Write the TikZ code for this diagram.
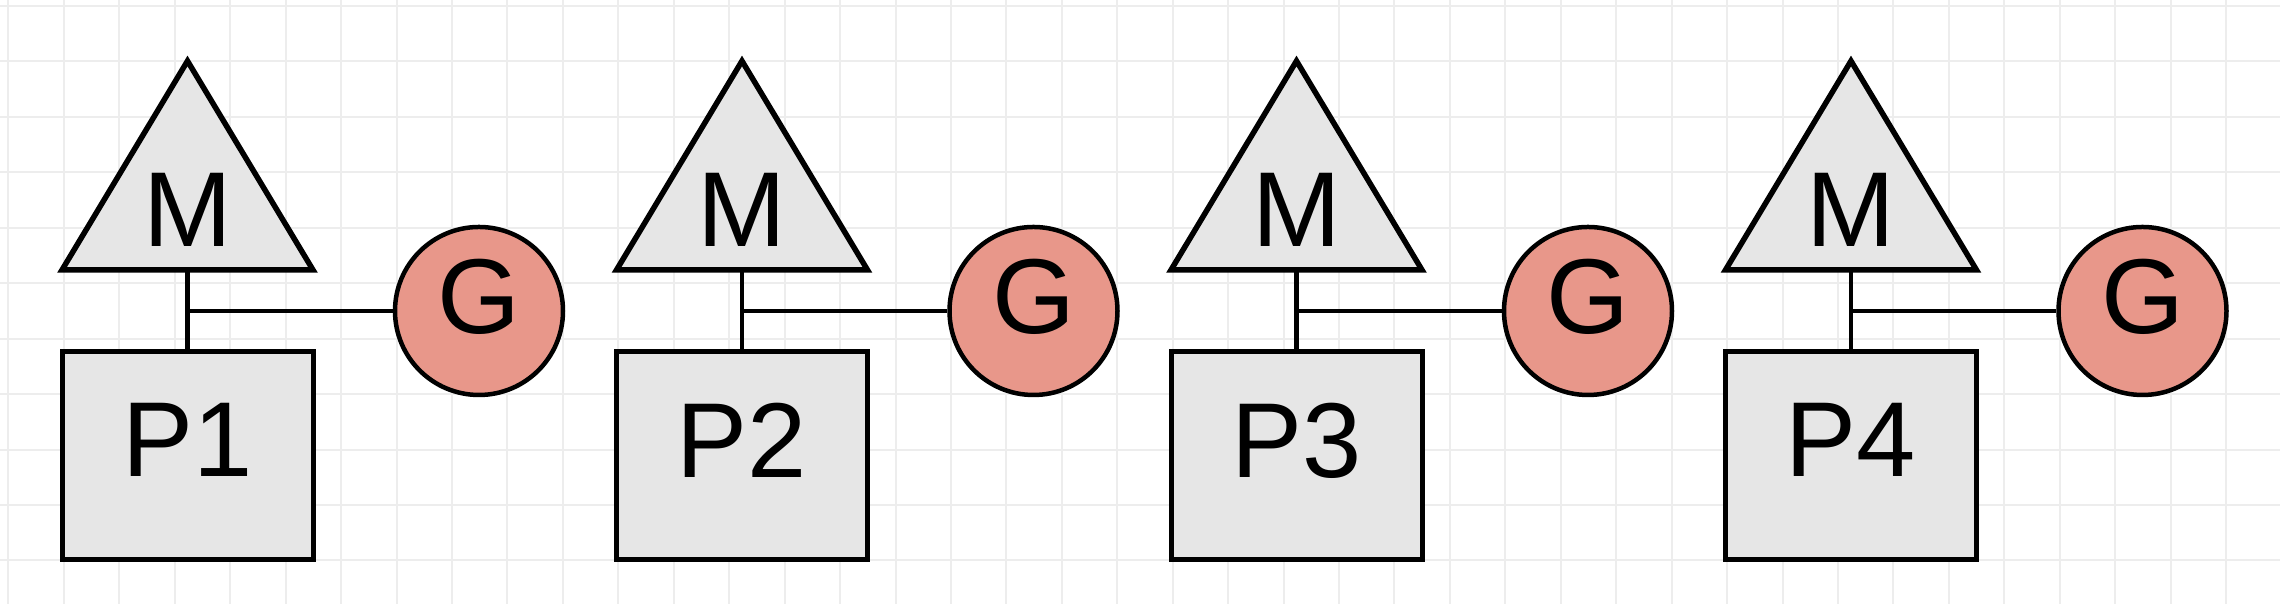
\documentclass[tikz,border=0pt]{standalone}
\usepackage{fontspec}
\setmainfont{Liberation Sans}
\usepackage{tikz}
\definecolor{shade}{RGB}{230,230,230}
\definecolor{gred}{RGB}{232,151,138}
\definecolor{gridgray}{RGB}{237,237,237}
\newcommand{\bigtxt}{\fontsize{30.3}{36}\selectfont}
\newcommand{\mtri}{-- ++(125.5,-209) -- ++(-251,0) -- cycle}

\begin{document}
\begin{tikzpicture}[x=0.1mm,y=0.1mm,
  tri/.style={draw,line width=0.55mm,fill=shade},
  mlbl/.style={inner sep=0pt,font=\bigtxt},
  pbox/.style={draw,line width=0.5mm,fill=shade,minimum width=25.1mm,minimum height=20.8mm,inner sep=0pt,text depth=3.2mm,font=\bigtxt},
  gball/.style={draw,circle,line width=0.45mm,fill=gred,minimum size=16.8mm,inner sep=0pt,text depth=3mm,font=\bigtxt},
  link/.style={line width=0.48mm}]
\useasboundingbox (0,0) rectangle (2280,604);
\draw[gridgray,line width=0.2mm,step=5.544mm,shift={(8.5,43.6)}] (-8.5,-43.6) grid (2271.5,560.4);
\coordinate (t1) at (187.5,543);
\coordinate (t2) at (742,543);
\coordinate (t3) at (1296.5,543);
\coordinate (t4) at (1851,543);
\coordinate (b1) at (187.5,334);
\coordinate (b2) at (742,334);
\coordinate (b3) at (1296.5,334);
\coordinate (b4) at (1851,334);
\coordinate (j1) at (187.5,293);
\coordinate (j2) at (742,293);
\coordinate (j3) at (1296.5,293);
\coordinate (j4) at (1851,293);
\node[pbox] (p1) at (187.5,148) {P1};
\node[pbox] (p2) at (742,148) {P2};
\node[pbox] (p3) at (1296.5,148) {P3};
\node[pbox] (p4) at (1851,148) {P4};
\node[gball] (g1) at (479,293) {G};
\node[gball] (g2) at (1033.5,293) {G};
\node[gball] (g3) at (1588,293) {G};
\node[gball] (g4) at (2142.5,293) {G};
\draw[link] (b1) -- (p1) (j1) -- (g1) (b2) -- (p2) (j2) -- (g2);
\draw[link] (b3) -- (p3) (j3) -- (g3) (b4) -- (p4) (j4) -- (g4);
\draw[tri] (t1) \mtri (t2) \mtri (t3) \mtri (t4) \mtri;
\node[mlbl] (m1) at (187.5,394) {M};
\node[mlbl] (m2) at (742,394) {M};
\node[mlbl] (m3) at (1296.5,394) {M};
\node[mlbl] (m4) at (1851,394) {M};
\end{tikzpicture}
\end{document}
